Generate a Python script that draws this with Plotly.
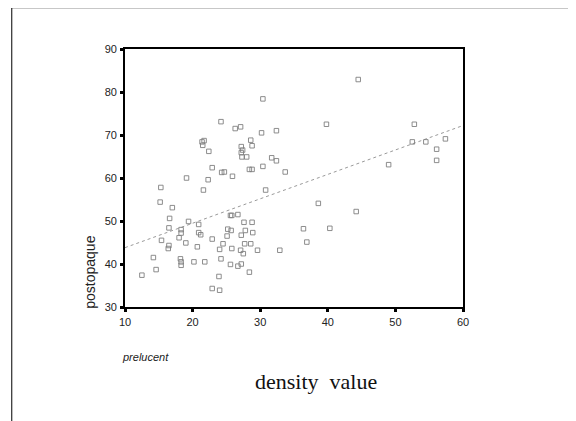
import plotly.graph_objects as go

prelucent = [44.5, 30.4, 24.2, 26.3, 27.1, 39.8, 52.8, 30.2, 32.4, 21.4, 21.7, 21.5,
             28.6, 28.8, 27.2, 27.2, 27.4, 22.4, 27.3, 28.0, 31.7, 32.4, 22.9, 24.3,
             24.7, 25.9, 28.4, 28.8, 30.4, 33.7, 19.1, 22.3, 15.3, 21.6, 30.8, 15.2,
             17.0, 38.6, 44.2, 25.6, 25.8, 26.7, 16.6, 19.4, 20.9, 27.6, 28.8, 16.5,
             18.3, 18.3, 20.9, 21.2, 25.2, 25.7, 27.8, 28.9, 25.1, 27.2, 18.0, 22.9,
             36.4, 40.3, 15.4, 19.0, 20.7, 16.5, 16.4, 24.5, 25.8, 24.0, 27.7, 28.6,
             27.1, 27.5, 29.6, 32.9, 36.9, 14.2, 18.2, 18.3, 18.3, 20.2, 21.8, 24.2,
             25.6, 26.7, 27.2, 14.6, 12.5, 28.4, 23.9, 22.9, 24.0, 49.0, 52.5, 54.5,
             57.4, 56.1, 56.1]
postopaque = [82.9, 78.4, 73.1, 71.5, 71.9, 72.5, 72.5, 70.5, 71.0, 68.4, 68.7, 67.6,
              68.8, 67.5, 67.3, 65.9, 66.5, 66.2, 64.9, 64.9, 64.7, 64.0, 62.4, 61.3,
              61.4, 60.4, 62.0, 62.0, 62.7, 61.4, 60.0, 59.6, 57.8, 57.2, 57.2, 54.4,
              53.1, 54.1, 52.2, 51.3, 51.3, 51.5, 50.6, 49.9, 49.2, 49.7, 49.7, 48.4,
              48.0, 47.2, 47.3, 46.8, 48.1, 47.8, 47.8, 47.3, 46.5, 46.7, 46.1, 45.8,
              48.2, 48.3, 45.5, 44.9, 44.0, 44.3, 43.6, 44.7, 43.6, 43.4, 44.7, 44.7,
              43.2, 42.4, 43.2, 43.2, 45.1, 41.5, 41.2, 40.5, 39.7, 40.5, 40.5, 41.2,
              39.9, 39.5, 40.0, 38.7, 37.4, 38.1, 37.1, 34.3, 33.9, 63.1, 68.4, 68.4,
              69.1, 66.7, 64.1]

fit_x = [10, 60]
fit_y = [43.8, 72.2]

x_ticks = [10, 20, 30, 40, 50, 60]
y_ticks = [30, 40, 50, 60, 70, 80, 90]

fig = go.Figure()
fig.add_trace(go.Scatter(
    x=fit_x, y=fit_y, mode="lines",
    line=dict(color="#9a9a9a", width=1, dash="dot"),
    showlegend=False, hoverinfo="skip"))
fig.add_trace(go.Scatter(
    x=prelucent, y=postopaque, mode="markers",
    marker=dict(symbol="square-open", size=4.5, color="#808080", line=dict(width=0.9)),
    showlegend=False))

axis_common = dict(
    showgrid=False, zeroline=False, showline=True, linecolor="black", linewidth=1.6,
    mirror=True, ticks="outside", ticklen=3, tickwidth=2.5, tickcolor="black",
    tickfont=dict(family="Liberation Sans, Arial", size=11, color="#222"))

fig.update_xaxes(range=[10, 60], tickvals=x_ticks, ticklabelstandoff=1, **axis_common)
fig.update_yaxes(range=[30, 90], tickvals=y_ticks, ticklabelstandoff=1, **axis_common)

fig.add_annotation(x=-0.104, y=0.136, xref="paper", yref="paper", text="postopaque",
                   textangle=-90, showarrow=False, xanchor="center", yanchor="middle",
                   font=dict(family="Liberation Sans, Arial", size=14, color="#222"))
fig.add_annotation(x=-0.016, y=-0.195, xref="paper", yref="paper", text="<i>prelucent</i>",
                   showarrow=False, xanchor="left", yanchor="middle",
                   font=dict(family="Liberation Sans, Arial", size=11, color="#222"))
fig.add_annotation(x=0.564, y=-0.29, xref="paper", yref="paper", text="density  value",
                   showarrow=False, xanchor="center", yanchor="middle",
                   font=dict(family="Liberation Serif, Times New Roman", size=22, color="#111"))

# outer page frame lines (top and left)
fig.add_shape(type="line", xref="paper", yref="paper", x0=-0.335, x1=1.34, y0=1.16, y1=1.16,
              line=dict(color="black", width=1))
fig.add_shape(type="line", xref="paper", yref="paper", x0=-0.335, x1=-0.335, y0=1.16, y1=-0.45,
              line=dict(color="black", width=1))

# page is shown with an 8px body margin, so the figure is 8px smaller
fig.update_layout(
    width=568, height=413,
    margin=dict(l=117, r=113, t=41, b=114),
    paper_bgcolor="white", plot_bgcolor="white",
)

fig.write_html("out.html")
